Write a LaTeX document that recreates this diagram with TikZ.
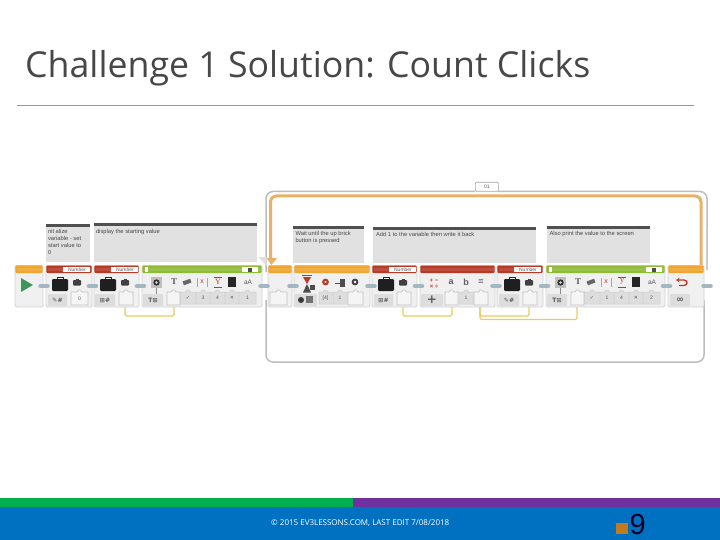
\documentclass[tikz,border=0pt]{standalone}
\usepackage{fontspec}
\usetikzlibrary{arrows.meta}
\setmainfont{Open Sans}
\newfontfamily\labelfont{Liberation Sans}
\newfontfamily\serifface{Liberation Serif}
\newfontfamily\symf{DejaVu Sans}
\definecolor{legored}{HTML}{B83A26}
\definecolor{legoorange}{HTML}{F0A52E}
\definecolor{legogreen}{HTML}{8FBB35}
\definecolor{loopgray}{HTML}{BDBDBD}
\definecolor{looporange}{HTML}{E9B166}
\definecolor{wire}{HTML}{EBCB5E}
\definecolor{pill}{HTML}{A3B7C2}
\definecolor{note}{HTML}{E1E1E1}
\definecolor{notebar}{HTML}{505050}
\definecolor{bodyfill}{HTML}{F0F0F0}
\definecolor{btn}{HTML}{DDDDDD}
\definecolor{footblue}{RGB}{0,112,192}
\definecolor{footgreen}{RGB}{0,176,80}
\definecolor{footpurple}{RGB}{112,48,160}
\definecolor{footorange}{RGB}{193,122,30}
\definecolor{startgreen}{RGB}{62,150,90}
\tikzset{
  legobody/.style={draw=black!18,fill=bodyfill,line width=.8pt,rounded corners=1.5pt,anchor=north west,inner sep=0pt,outer sep=0pt},
  comment/.style={fill=note,anchor=north west,inner sep=0pt,outer sep=0pt,text=black!72,font=\labelfont\fontsize{5.8}{7}\selectfont,align=left},
  tiny/.style={font=\labelfont\fontsize{5}{6}\selectfont,text=black!65,inner sep=0pt},
  wiring/.style={draw=wire,line width=1.3pt,rounded corners=1.5pt},
  loopline/.style={draw=loopgray,line width=1.5pt,rounded corners=7pt},
  looptop/.style={draw=looporange,line width=3pt,rounded corners=6pt}
}
% name, x1, x2, head colour
\newcommand{\LegoBlock}[4]{%
  \node[legobody,minimum width=#3pt-#2pt,minimum height=41.5pt] (#1) at (#2,265.5) {};
  \fill[#4,rounded corners=1pt] (#2+.4,265.5) rectangle (#3-.4,273);
  \fill[white,opacity=.1] (#2+1.5,268) rectangle (#3-1.5,271);
}
\newcommand{\NumberTag}[1]{%
  \fill[white] (#1+17,266.5) rectangle (#1+44,272);
  \node[tiny] at (#1+31,269.3) {Number};
}
% plug: x, width, label
\newcommand{\PlugBox}[3]{%
  \draw[draw=black!24,fill=white!96!black,line width=.6pt] (#1,292) -- (#1+#2/2-2.5,292) -- (#1+#2/2-1,290) -- (#1+#2/2+1,290) -- (#1+#2/2+2.5,292) -- (#1+#2,292) -- (#1+#2,305) -- (#1,305) -- cycle;
  \node[tiny] at (#1+#2/2,298.5) {#3};
}
\newcommand{\PlugGray}[3]{%
  \draw[draw=black!20,fill=black!13,line width=.5pt] (#1,292) -- (#1+#2/2-2.5,292) -- (#1+#2/2-1,290) -- (#1+#2/2+1,290) -- (#1+#2/2+2.5,292) -- (#1+#2,292) -- (#1+#2,304) -- (#1,304) -- cycle;
  \node[tiny] at (#1+#2/2,298) {#3};
}
\newcommand{\Btn}[3]{%
  \fill[btn,rounded corners=1pt] (#1,294) rectangle (#2,306);
  \node[tiny,font=\symf\bfseries\fontsize{6}{7}\selectfont] at ({(#1+#2)/2},300) {#3};
}
\newcommand{\BigCase}[1]{%
  \draw[black!85,line width=.8pt] (#1+5,279) rectangle (#1+11,277.5);
  \fill[black!88,rounded corners=1.2pt] (#1,279) rectangle (#1+16,291);
}
\newcommand{\SmallCase}[1]{%
  \fill[black!75,rounded corners=.8pt] (#1,280) rectangle (#1+8,285.5);
  \fill[black!75] (#1+2.5,279) rectangle (#1+5.5,280);
}
% display block icons, x = block left
\newcommand{\DisplayIcons}[6]{%
  \fill[black!25] (#1+9,276.5) rectangle (#1+20,288);
  \fill[black!80] (#1+14.5,282.5) circle (3.2);
  \fill[white!85!black] (#1+14.5,282.5) circle (1.3);
  \draw[black!45,line width=.5pt] (#1+14.5,288) -- (#1+14.5,295);
  \node[font=\serifface\bfseries\fontsize{9}{9}\selectfont,text=black!65,inner sep=0pt] at (#1+32,282) {T};
  \fill[black!60,rotate around={20:(#1+45,282)}] (#1+41,280) rectangle (#1+49,284);
  \draw[legored!55,line width=.4pt] (#1+55,278) -- (#1+55,287);
  \draw[legored!55,line width=.4pt] (#1+65,278) -- (#1+65,287);
  \node[font=\labelfont\fontsize{7}{7}\selectfont,text=legored,inner sep=0pt] at (#1+60,282) {#2};
  \node[font=\serifface\fontsize{8}{8}\selectfont,text=legored,inner sep=0pt] at (#1+76,282) {#3};
  \draw[legored,line width=.5pt] (#1+72,287) -- (#1+80,287);
  \draw[legored,line width=.5pt] (#1+72,277.5) -- (#1+80,277.5);
  \fill[black!85] (#1+86,277) rectangle (#1+94,287);
  \node[font=\labelfont\fontsize{6.5}{7}\selectfont,text=black!65,inner sep=0pt] at (#1+106,282) {aA};
  \PlugGray{#1+38}{16}{{\symf ✓}}
  \PlugGray{#1+54}{14}{#4}
  \PlugGray{#1+68}{15}{#5}
  \PlugGray{#1+83}{14}{{\symf ✕}}
  \PlugGray{#1+97}{17}{#6}
  \Btn{#1+1}{#1+21}{T⊞}
  \PlugBox{#1+25}{13}{}
  \fill[white] (#1+3,267) rectangle (#1+6,271.5);
  \fill[white] (#1+100,266.5) rectangle (#1+116,272);
  \fill[black!70] (#1+106,267.5) rectangle (#1+110,271.5);
}
\begin{document}
\begin{tikzpicture}[x=1pt,y=-1pt,line cap=butt]
\useasboundingbox (0,0) rectangle (720,540);
\fill[white] (0,0) rectangle (720,540);
% title
\node[anchor=west,inner sep=0pt,font=\fontsize{35.7}{40}\selectfont,text=black!72] (title) at (25,68) {Challenge 1 Solution: Count Clicks};
\coordinate (ruleL) at (17,105);
\coordinate (ruleR) at (694,105);
\draw[black!40,line width=.7pt] (ruleL) -- (ruleR);
% footer
\fill[footblue] (0,507) rectangle (720,540);
\fill[footgreen] (0,498) rectangle (353,507);
\fill[footpurple] (353,498) rectangle (720,507);
\node[anchor=west,inner sep=0pt,text=white,font=\fontsize{8}{9}\selectfont] (copy) at (271,523) {© 2015 EV3LESSONS.COM, LAST EDIT 7/08/2018};
\fill[footorange] (616,523) rectangle (628,534);
\node[anchor=west,inner sep=0pt,text=black!85!blue,font=\labelfont\fontsize{29}{30}\selectfont] (num) at (629.5,524.5) {9};
% loop frame
\draw[loopline] (266,272) -- (266,191.5) -- (475,191.5);
\draw[loopline] (498,191.5) -- (707,191.5) -- (707,230);
\draw[loopline] (266,300) -- (266,362) -- (704,362) -- (704,300);
\draw[draw=loopgray!80,line width=1.5pt] (707,229) -- (707,270);
\draw[looptop] (270.5,262) -- (270.5,196) -- (701,196) -- (701,268);
\fill[looporange] (266.5,258) -- (277,258) -- (271.5,265) -- cycle;
\fill[black!12] (258.5,257) -- (266.5,257) -- (266.5,266) -- cycle;
\node[draw=black!35,fill=white,line width=.7pt,rounded corners=1pt,anchor=north west,inner sep=0pt,minimum width=23pt,minimum height=9pt,tiny] (looptab) at (475,182) {01};
% comments
\node[comment,minimum width=44pt,minimum height=38pt] (c1) at (46,224) {};
\fill[notebar] (c1.north west) rectangle ([yshift=-3pt]c1.north east);
\node[comment,fill=none] (c1text) at (48,229.5) {nit alize\\variable - set\\start value to\\0};
\node[comment,minimum width=163pt,minimum height=39pt] (c2) at (94,223) {};
\fill[notebar] (c2.north west) rectangle ([yshift=-3pt]c2.north east);
\node[comment,fill=none] (c2text) at (96,229) {display the starting value};
\node[comment,minimum width=71pt,minimum height=37pt] (c3) at (293,226) {};
\fill[notebar] (c3.north west) rectangle ([yshift=-3pt]c3.north east);
\node[comment,fill=none] (c3text) at (295.5,231.5) {Wait until the up brick\\button is pressed};
\node[comment,minimum width=163pt,minimum height=36pt] (c4) at (373,227) {};
\fill[notebar] (c4.north west) rectangle ([yshift=-3pt]c4.north east);
\node[comment,fill=none] (c4text) at (376,232.5) {Add 1 to the variable then write it back};
\node[comment,minimum width=103pt,minimum height=37pt] (c5) at (547,226) {};
\fill[notebar] (c5.north west) rectangle ([yshift=-3pt]c5.north east);
\node[comment,fill=none] (c5text) at (549.5,231.5) {Also print the value to the screen};
% wires (behind blocks)
\coordinate (w1a) at (125,304); \coordinate (w1b) at (174,304);
\coordinate (w2a) at (403,304); \coordinate (w2b) at (452,304);
\coordinate (w3a) at (480,304); \coordinate (w3b) at (577,304);
\coordinate (w4b) at (529,304);
\draw[wiring] (w1a) |- (150,316) -| (w1b);
\draw[wiring] (w2a) |- (430,316) -| (w2b);
\draw[wiring] (w3a) |- (530,319.5) -| (w3b);
\draw[wiring] (w3a) |- (505,316) -| (w4b);
% blocks
\LegoBlock{start}{15}{43}{legoorange}
\LegoBlock{var1}{46}{92}{legored}
\LegoBlock{var2}{94}{139}{legored}
\LegoBlock{disp1}{142}{262}{legogreen}
\LegoBlock{loopstart}{268}{292}{legoorange}
\LegoBlock{wait}{294}{370}{legoorange}
\LegoBlock{var3}{372}{417}{legored}
\LegoBlock{math}{420}{495}{legored}
\LegoBlock{var4}{497}{543}{legored}
\LegoBlock{disp2}{546}{665}{legogreen}
\LegoBlock{loopend}{668}{704}{legoorange}
\NumberTag{46}\NumberTag{94}\NumberTag{372}\NumberTag{497}
% start
\fill[startgreen] (21,278) -- (33,285) -- (21,292) -- cycle;
% var1
\BigCase{52}\SmallCase{73}
\Btn{48}{67}{✎\#}
\PlugBox{71}{17}{0}
% var2
\BigCase{100}\SmallCase{121}
\Btn{95}{115}{⊞\#}
\PlugBox{119}{14}{}
% display 1
\DisplayIcons{142}{x}{Y}{3}{4}{1}
% loop start
\PlugBox{270}{17}{}
% wait
\draw[legored,line width=.6pt] (302,275.5) -- (312,275.5);
\fill[legored] (303,277) -- (311,277) -- (307,284) -- cycle;
\fill[black!70] (307,284) -- (311,292.5) -- (303,292.5) -- cycle;
\fill[black!70] (310,285) rectangle (315,290);
\Btn{295}{317}{}
\fill[black!78] (301,300) circle (3);
\fill[black!55] (306,296) rectangle (313,303);
\fill[legored] (325.5,282) circle (3.4);
\fill[white] (325.5,282) circle (1.2);
\fill[black!70] (340,279) rectangle (345,287);
\draw[black!70,line width=.6pt] (335,283) -- (340,283);
\fill[black!75] (355,282) circle (3.4);
\fill[white] (355,282) circle (1.4);
\PlugGray{319}{13}{[4]}
\PlugGray{333}{14}{1}
\PlugBox{348}{15}{}
% var3
\BigCase{378}\SmallCase{399}
\Btn{374}{393}{⊞\#}
\PlugBox{397}{14}{}
% math
\node[font=\labelfont\bfseries\fontsize{6}{6}\selectfont,text=legored,inner sep=0pt,align=center] (ops) at (434,284) {+ −\\× ÷};
\Btn{421}{443}{\fontsize{12}{12}\selectfont +}
\node[font=\labelfont\bfseries\fontsize{9}{9}\selectfont,text=black!62,inner sep=0pt] at (451,282) {a};
\node[font=\labelfont\bfseries\fontsize{9}{9}\selectfont,text=black!62,inner sep=0pt] at (466,282) {b};
\node[font=\labelfont\bfseries\fontsize{9}{9}\selectfont,text=black!62,inner sep=0pt] at (481,282) {=};
\PlugBox{445}{13}{}
\PlugGray{459}{14}{1}
\PlugBox{474}{14}{}
% var4
\BigCase{504}\SmallCase{525}
\Btn{499}{519}{✎\#}
\PlugBox{523}{14}{}
% display 2
\DisplayIcons{546}{x}{y}{1}{4}{2}
% loop end
\draw[legored,line width=1.3pt,{Stealth[length=3.5pt,width=4.5pt]}-] (676,280) -- (684,280) .. controls (688,280) and (688,285.5) .. (684,285.5) -- (679,285.5);
\Btn{670}{690}{\fontsize{9}{9}\selectfont ∞}
% connector pills
\foreach \px in {44,92.5,140.5,264,293,371,418.5,496,544.5,666.5,707}
  \draw[pill,line width=3.5pt,line cap=round] (\px-4,286) -- (\px+4,286);
\end{tikzpicture}
\end{document}
